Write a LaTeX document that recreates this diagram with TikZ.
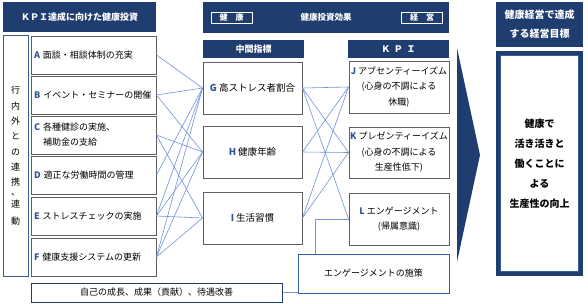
\documentclass[tikz,border=0pt]{standalone}
\usepackage{fontspec}
\setmainfont{Noto Sans CJK JP}
\definecolor{navy}{RGB}{31,61,110}
\definecolor{letblue}{RGB}{47,85,151}
\definecolor{connblue}{RGB}{112,146,214}
\definecolor{boxgray}{RGB}{95,95,95}
\definecolor{lblue}{RGB}{52,92,160}
\newcommand\Ltr[1]{\textcolor{letblue}{\bfseries #1}}
\begin{document}
\begin{tikzpicture}[x=1pt,y=-1pt,
  gbox/.style={draw=boxgray,line width=0.9pt,fill=white,inner sep=0pt},
  abox/.style={gbox,minimum width=125,minimum height=38,text width=119pt,inner xsep=3pt,align=left,font=\fontsize{9}{15}\selectfont},
  mbox/.style={gbox,minimum width=99,minimum height=52,align=center,font=\fontsize{9.5}{15}\selectfont},
  kbox/.style={gbox,minimum width=100,minimum height=52,align=center,font=\fontsize{9}{15.5}\selectfont},
  hdr/.style={fill=navy,text=white,font=\bfseries\fontsize{9}{11}\selectfont,inner sep=0pt},
  conn/.style={draw=connblue,line width=0.6pt},
  tag/.style={draw=white,line width=0.8pt,text=white,inner sep=0pt,minimum width=41,minimum height=11,font=\bfseries\fontsize{8}{9}\selectfont}
]
\useasboundingbox (0,0) rectangle (588,303);

% left header
\node[hdr,minimum width=153,minimum height=30] (kpih) at (79.5,17) {ＫＰＩ達成に向けた健康投資};

% left vertical box
\node[draw=lblue,line width=0.9pt,minimum width=25,minimum height=241,inner sep=0pt] (renk) at (15.5,155.5) {};
\node[align=center,inner sep=0pt,font=\fontsize{9}{15.3}\selectfont] (vtxt) at (15.5,155.5)
  {行\\内\\外\\と\\の\\連\\携\\[-5pt]、\\[-4pt]連\\[1.5pt]動};

% A-F
\node[abox] (A) at (93.5,55) {\Ltr{A} 面談・相談体制の充実};
\node[abox] (B) at (93.5,95) {\Ltr{B} イベント・セミナーの開催};
\node[abox] (C) at (93.5,135) {\Ltr{C} 各種健診の実施、\\\hphantom{\Ltr{C} }補助金の支給};
\node[abox] (D) at (93.5,175) {\Ltr{D} 適正な労働時間の管理};
\node[abox] (E) at (93.5,216) {\Ltr{E} ストレスチェックの実施};
\node[abox] (F) at (93.5,257) {\Ltr{F} 健康支援システムの更新};

% middle header
\node[hdr,minimum width=246,minimum height=31,font=\bfseries\fontsize{8.5}{10}\selectfont] (effh) at (326,17.5) {健康投資効果};
\node[tag] (tkk) at (231.5,17.5) {健\hspace{1em}康};
\node[tag] (tke) at (422,17.5) {経\hspace{1em}営};

\node[hdr,minimum width=101,minimum height=18] (midh) at (253.5,49) {中間指標};
\node[hdr,minimum width=101,minimum height=18] (kpih2) at (398.5,49) {Ｋ\hspace{0.4em}Ｐ\hspace{0.4em}Ｉ};

% G-I
\node[mbox] (G) at (252.5,88) {\Ltr{G} 高ストレス者割合};
\node[mbox] (H) at (252.5,152) {\Ltr{H} 健康年齢};
\node[mbox] (I) at (252.5,218) {\Ltr{I} 生活習慣};

% J-L
\node[kbox] (J) at (399,87) {\Ltr{J} アブセンティーイズム\\(心身の不調による\\休職)};
\node[kbox,minimum height=51] (K) at (399,152.5) {\Ltr{K} プレゼンティーイズム\\(心身の不調による\\生産性低下)};
\node[kbox] (L) at (399,219) {\Ltr{L} エンゲージメント\\(帰属意識)};

% engagement measures
\node[draw=lblue,line width=0.8pt,fill=white,minimum width=151,minimum height=39,inner sep=0pt,font=\fontsize{9}{11}\selectfont] (eng) at (373.5,273.5) {エンゲージメントの施策};

% bottom box
\node[draw=navy,line width=1pt,fill=white,minimum width=251,minimum height=19,inner sep=0pt,font=\fontsize{9}{11}\selectfont] (self) at (156.5,292.5) {自己の成長、成果（貢献）、待遇改善};

% right header
\node[hdr,minimum width=87,minimum height=45,align=center,font=\bfseries\fontsize{10}{19}\selectfont] (goalh) at (539.5,24.5) {健康経営で達成\\する経営目標};

% goal box
\node[fill=navy,minimum width=87,minimum height=225,inner sep=0pt] (goalo) at (539.5,163.5) {};
\node[fill=white,draw=lblue,line width=0.5pt,minimum width=78,minimum height=216,inner sep=0pt,align=center,font=\bfseries\fontsize{10}{20}\selectfont] (goal) at (539.5,163.5) {健康で\\活き活きと\\働くことに\\よる\\生産性の向上};

% big arrow
\fill[navy] (457,48) -- (480,155) -- (457,262) -- cycle;

% connectors A-F -> G-I
\draw[conn] (A.east) -- (G.west);
\draw[conn] (B.east) -- (G.west);
\draw[conn] (B.east) -- (H.west);
\draw[conn] (C.east) -- (H.west);
\draw[conn] (C.east) -- (I.west);
\draw[conn] (D.east) -- (G.west);
\draw[conn] (E.east) -- (G.west);
\draw[conn] (E.east) -- (H.west);
\draw[conn] (E.east) -- (I.west);
\draw[conn] (F.east) -- (G.west);
\draw[conn] (F.east) -- (H.west);
\draw[conn] (F.east) -- (I.west);

% connectors G-I -> J-L
\draw[conn] (G.east) -- (J.west);
\draw[conn] (G.east) -- (K.west);
\draw[conn] (G.east) -- (L.west);
\draw[conn] (H.east) -- (J.west);
\draw[conn] (H.east) -- (K.west);
\draw[conn] (I.east) -- (J.west);
\draw[conn] (I.east) -- (K.west);

% elbow from engagement measures to L, and bottom box to engagement
\draw[conn] ([xshift=18pt]eng.north west) |- (L.west);
\draw[conn] (self.east) -- (self.east -| eng.west);
\end{tikzpicture}
\end{document}
